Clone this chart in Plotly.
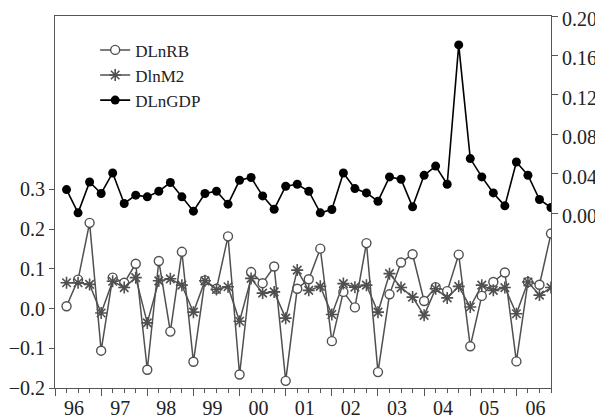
import plotly.graph_objects as go

# quarter index: 0 = 1996Q1 ; data run 1996Q2 .. 2006Q4
quarters = list(range(1, 44))
year_labels = ["96", "97", "98", "99", "00", "01", "02", "03", "04", "05", "06"]

dlnrb = [0.006, 0.073, 0.216, -0.106, 0.078, 0.065, 0.113, -0.154, 0.120, -0.058,
         0.143, -0.134, 0.071, 0.050, 0.182, -0.166, 0.092, 0.064, 0.106, -0.182,
         0.050, 0.074, 0.151, -0.082, 0.042, 0.003, 0.165, -0.160, 0.036, 0.116,
         0.137, 0.019, 0.054, 0.044, 0.136, -0.095, 0.032, 0.067, 0.091, -0.133,
         0.067, 0.060, 0.189]

dlnm2 = [0.065, 0.065, 0.061, -0.011, 0.069, 0.053, 0.078, -0.036, 0.070, 0.075,
         0.059, -0.009, 0.070, 0.048, 0.055, -0.032, 0.076, 0.039, 0.042, -0.024,
         0.097, 0.046, 0.056, -0.015, 0.063, 0.054, 0.059, -0.009, 0.088, 0.053,
         0.029, -0.017, 0.050, 0.027, 0.056, 0.004, 0.059, 0.046, 0.053, -0.013,
         0.067, 0.034, 0.053]

dlngdp = [0.0242, 0.0006, 0.0319, 0.0202, 0.0410, 0.0101, 0.0185, 0.0168, 0.0225, 0.0313,
          0.0168, 0.0023, 0.0202, 0.0225, 0.0094, 0.0336, 0.0364, 0.0178, 0.0043, 0.0276,
          0.0296, 0.0225, 0.0006, 0.0040, 0.0410, 0.0252, 0.0208, 0.0124, 0.0370, 0.0346,
          0.0067, 0.0386, 0.0480, 0.0296, 0.1707, 0.0556, 0.0370, 0.0208, 0.0077, 0.0521,
          0.0387, 0.0141, 0.0060]

GRAY = "#505050"
AX = "#555555"
FONT = "Liberation Serif"
TXT = "#222222"

fig = go.Figure()
fig.add_trace(go.Scatter(
    x=quarters, y=dlnrb, name="DLnRB", mode="lines+markers",
    line=dict(color=GRAY, width=1.5),
    marker=dict(symbol="circle", size=9, color="white", line=dict(color=GRAY, width=1.4)),
))
fig.add_trace(go.Scatter(
    x=quarters, y=dlnm2, name="DlnM2", mode="lines+markers",
    line=dict(color=GRAY, width=1.5),
    marker=dict(symbol="asterisk", size=10, color=GRAY, line=dict(color=GRAY, width=1.6)),
))
fig.add_trace(go.Scatter(
    x=quarters, y=dlngdp, name="DLnGDP", mode="lines+markers", yaxis="y2",
    line=dict(color="black", width=1.6),
    marker=dict(symbol="circle", size=9, color="black"),
))

# the page body adds an 8px offset, so the figure is 8px smaller than the window
fig.update_layout(
    width=595, height=412,
    margin=dict(l=47, r=52, t=8, b=32, autoexpand=False),
    paper_bgcolor="white", plot_bgcolor="white",
    font=dict(family=FONT, size=20, color=TXT),
    showlegend=True,
    legend=dict(x=0.081, y=0.956, xanchor="left", yanchor="top",
                bgcolor="rgba(0,0,0,0)", font=dict(family=FONT, size=17, color=TXT),
                tracegroupgap=0),
    xaxis=dict(
        range=[0, 43], showgrid=False, zeroline=False, automargin=False,
        showline=True, linecolor=AX, linewidth=1, mirror=True,
        tickmode="array", tickvals=[4 * k for k in range(len(year_labels))],
        ticktext=year_labels, ticks="outside", ticklen=7, tickcolor=AX,
        ticklabelshift=19, ticklabelstandoff=-5, ticklabeloverflow="allow",
        minor=dict(dtick=1, tick0=0, ticks="outside", ticklen=4, tickcolor=AX, showgrid=False),
        tickfont=dict(family=FONT, size=20, color=TXT),
    ),
    yaxis=dict(
        range=[-0.2, 0.737], showgrid=False, zeroline=False, automargin=False,
        showline=True, linecolor=AX, linewidth=1,
        tickmode="array", tickvals=[-0.2, -0.1, 0.0, 0.1, 0.2, 0.3],
        tickformat=".1f", ticks="outside", ticklen=5, tickcolor=AX,
        ticklabeloverflow="allow",
        tickfont=dict(family=FONT, size=20, color=TXT),
    ),
    yaxis2=dict(
        range=[-0.1768, 0.20], overlaying="y", side="right", showgrid=False, zeroline=False,
        automargin=False,
        showline=True, linecolor=AX, linewidth=1,
        tickmode="array", tickvals=[0.0, 0.04, 0.08, 0.12, 0.16, 0.20],
        tickformat=".2f", ticks="outside", ticklen=6, tickcolor=AX,
        ticklabeloverflow="allow", ticklabelshift=3,
        tickfont=dict(family=FONT, size=20, color=TXT),
    ),
)

fig.write_html("out.html")
